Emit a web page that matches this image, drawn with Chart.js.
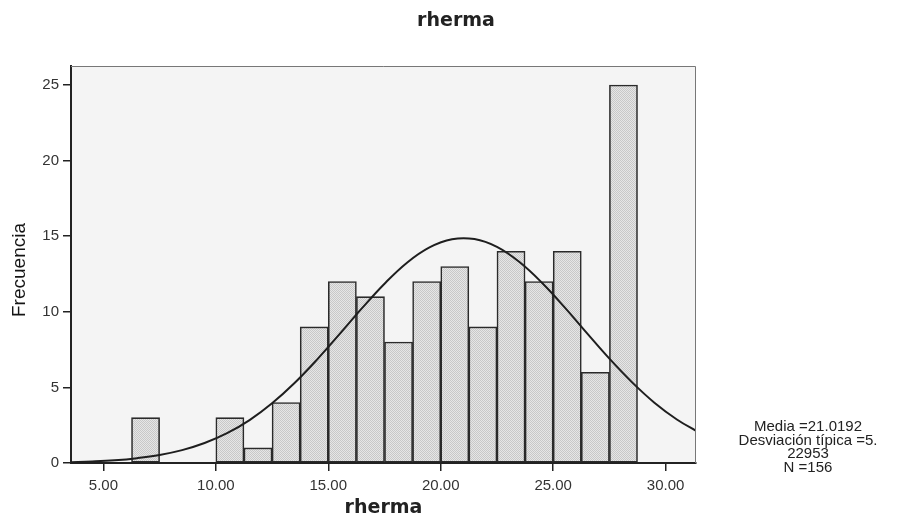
<!DOCTYPE html>
<html>
<head>
<meta charset="utf-8">
<script src="https://cdn.jsdelivr.net/npm/chart.js@4/dist/chart.umd.min.js"></script>
<style>
  html, body { margin: 0; padding: 0; background: #ffffff; }
  canvas { display: block; }
</style>
</head>
<body>
<canvas id="c" width="902" height="517"></canvas>
<script>
// ---- data ----
const binLow = [6.25, 10.00, 11.25, 12.50, 13.75, 15.00, 16.25, 17.50, 18.75, 20.00, 21.25, 22.50, 23.75, 25.00, 26.25, 27.50];
const counts = [3, 3, 1, 4, 9, 12, 11, 8, 12, 13, 9, 14, 12, 14, 6, 25];
const binWidth = 1.25;
const curveX = [3.5, 4.5, 5.5, 6.5, 7.5, 8.5, 9.5, 10.5, 11.5, 12.5, 13.5, 14.5, 15.5, 16.5, 17.5, 18.5, 19.5, 20.5, 21.5, 22.5, 23.5, 24.5, 25.5, 26.5, 27.5, 28.5, 29.5, 30.5, 31.5];
const curveY = [0.05, 0.10, 0.18, 0.32, 0.53, 0.85, 1.32, 1.97, 2.84, 3.95, 5.29, 6.84, 8.52, 10.24, 11.86, 13.25, 14.26, 14.80, 14.81, 14.29, 13.29, 11.92, 10.31, 8.59, 6.90, 5.35, 3.99, 2.88, 2.00];
const xTicks = [5, 10, 15, 20, 25, 30];
const yTicks = [0, 5, 10, 15, 20, 25];
const chartTitle = 'rherma';
const xTitle = 'rherma';
const yTitle = 'Frecuencia';
const statsLines = ['Media =21.0192', 'Desviación típica =5.', '22953', 'N =156'];

// ---- bar fill texture ----
const pc = document.createElement('canvas');
pc.width = 2; pc.height = 2;
const pctx = pc.getContext('2d');
pctx.fillStyle = '#e6e6e6'; pctx.fillRect(0, 0, 2, 2);
pctx.fillStyle = '#c8c8c8'; pctx.fillRect(0, 0, 1, 1); pctx.fillRect(1, 1, 1, 1);
const ctx = document.getElementById('c').getContext('2d');
const barPattern = ctx.createPattern(pc, 'repeat');

const decor = {
  id: 'decor',
  beforeDraw(chart) {
    const c = chart.ctx, a = chart.chartArea;
    c.save();
    c.fillStyle = '#ffffff';
    c.fillRect(0, 0, chart.width, chart.height);
    c.fillStyle = '#f4f4f4';
    c.fillRect(a.left, a.top, a.right - a.left, a.bottom - a.top);
    c.restore();
  },
  afterDraw(chart) {
    const c = chart.ctx, a = chart.chartArea;
    c.save();
    // top / right frame
    c.strokeStyle = '#777777';
    c.lineWidth = 1;
    c.beginPath();
    c.moveTo(a.left, a.top + 0.5);
    c.lineTo(a.right - 0.5, a.top + 0.5);
    c.lineTo(a.right - 0.5, a.bottom);
    c.stroke();
    // titles
    c.fillStyle = '#222222';
    c.textAlign = 'center';
    c.textBaseline = 'middle';
    c.font = 'bold 19px "DejaVu Sans"';
    c.fillText(chartTitle, 456, 21);
    c.fillText(xTitle, (a.left + a.right) / 2, 508);
    c.save();
    c.translate(20, 270);
    c.rotate(-Math.PI / 2);
    c.fillStyle = '#151515';
    c.font = '19px "Liberation Sans"';
    c.fillText(yTitle, 0, 0);
    c.restore();
    // stats box
    c.font = '15px "Liberation Sans"';
    c.fillStyle = '#222222';
    const ys = [427, 440.5, 454, 467.5];
    statsLines.forEach((t, i) => c.fillText(t, 808, ys[i]));
    c.restore();
  }
};

new Chart(ctx, {
  type: 'bar',
  data: {
    datasets: [
      {
        type: 'line',
        data: curveX.map((x, i) => ({ x: x, y: curveY[i] })),
        borderColor: '#1e1e1e',
        borderWidth: 2,
        pointRadius: 0,
        fill: false,
        tension: 0.4
      },
      {
        type: 'bar',
        data: binLow.map((lo, i) => ({ x: lo + binWidth / 2, y: counts[i] })),
        backgroundColor: barPattern,
        borderColor: '#2a2a2a',
        borderWidth: 1.6,
        borderSkipped: false,
        barPercentage: 1,
        categoryPercentage: 1
      }
    ]
  },
  options: {
    responsive: false,
    animation: false,
    devicePixelRatio: 1,
    layout: { padding: { top: 66, right: 206, left: 0, bottom: 0 } },
    plugins: { legend: { display: false }, tooltip: { enabled: false }, title: { display: false } },
    scales: {
      x: {
        type: 'linear',
        min: 3.56,
        max: 31.35,
        offset: false,
        afterBuildTicks: s => { s.ticks = xTicks.map(v => ({ value: v })); },
        afterFit: s => { s.height = 54; },
        ticks: {
          padding: 6,
          color: '#333333',
          font: { family: 'Liberation Sans', size: 15 },
          callback: v => Number(v).toFixed(2),
          maxRotation: 0
        },
        grid: { display: true, offset: false, drawOnChartArea: false, drawTicks: true, tickLength: 8, color: '#222222', lineWidth: 1.5 },
        border: { display: true, color: '#222222', width: 2 }
      },
      y: {
        type: 'linear',
        min: 0,
        max: 26.26,
        afterBuildTicks: s => { s.ticks = yTicks.map(v => ({ value: v })); },
        afterFit: s => { s.width = 71; },
        ticks: {
          padding: 4,
          color: '#333333',
          font: { family: 'Liberation Sans', size: 15 }
        },
        grid: { display: true, offset: false, drawOnChartArea: false, drawTicks: true, tickLength: 8, color: '#222222', lineWidth: 1.5 },
        border: { display: true, color: '#222222', width: 2 }
      }
    }
  },
  plugins: [decor]
});
</script>
</body>
</html>
